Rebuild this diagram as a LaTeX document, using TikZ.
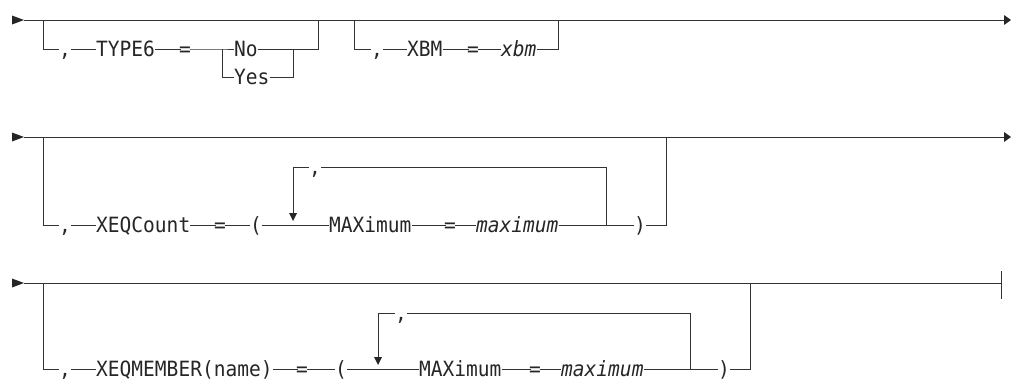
\documentclass[tikz,border=0pt]{standalone}
\usepackage{fontspec}
\newfontfamily\rrmono[FakeStretch=0.93]{DejaVu Sans Mono}
\begin{document}
\begin{tikzpicture}[x=1pt,y=-1pt,
  rr/.style={draw=black!80, line width=1pt},
  tipfill/.style={fill=black!85},
  kw/.style={inner sep=0pt, text height=15pt, text depth=0pt, anchor=west,
    font=\rrmono\fontsize{21}{22}\selectfont, text=black!85},
  eq/.style={kw, inner xsep=-1.5pt},
  var/.style={kw, font=\rrmono\itshape\fontsize{21}{22}\selectfont}]
\useasboundingbox (0,0) rectangle (1011,380);

% ---------------- Row 1 ----------------
\coordinate (s1) at (24,20);
\coordinate (e1end) at (1004,20);
\fill[tipfill] (12,15.5) -- (s1) -- (12,24.5) -- cycle;
\draw[rr] (s1) -- (e1end);
\fill[tipfill] (1004,15) -- (1011,20) -- (1004,25) -- cycle;

\node[kw] (c1) at (59,49) {,};
\node[kw] (t6) at (96,49) {TYPE6};
\node[eq] (q1) at (180.5,49) {=};
\node[kw] (no) at (234,49) {No};
\node[kw] (yes) at (234,77) {Yes};
\coordinate (b1l) at (43,20);
\coordinate (b1r) at (318,20);
\coordinate (j1l) at (222,49);
\coordinate (j1r) at (293,49);
\draw[rr] (b1l) |- (c1.west);
\draw[rr] (c1.east) -- (t6.west);
\draw[rr] (t6.east) -- (q1.west);
\draw[rr] (q1.east) -- (j1l) -- (no.west);
\draw[rr] (j1l) |- (yes.west);
\draw[rr] (no.east) -- (j1r);
\draw[rr] (yes.east) -| (j1r);
\draw[rr] (j1r) -| (b1r);

\node[kw] (c2) at (371,49) {,};
\node[kw] (xbm) at (407,49) {XBM};
\node[eq] (q2) at (468.5,49) {=};
\node[var] (vxbm) at (501,49) {xbm};
\coordinate (b2l) at (354,20);
\coordinate (b2r) at (558,20);
\draw[rr] (b2l) |- (c2.west);
\draw[rr] (c2.east) -- (xbm.west);
\draw[rr] (xbm.east) -- (q2.west);
\draw[rr] (q2.east) -- (vxbm.west);
\draw[rr] (vxbm.east) -| (b2r);

% ---------------- Row 2 ----------------
\coordinate (s2) at (24,137);
\coordinate (e2end) at (1004,137);
\fill[tipfill] (12,132.5) -- (s2) -- (12,141.5) -- cycle;
\draw[rr] (s2) -- (e2end);
\fill[tipfill] (1004,132) -- (1011,137) -- (1004,142) -- cycle;

\node[kw] (c3) at (59,225) {,};
\node[kw] (xc) at (96,225) {XEQCount};
\node[eq] (q3) at (215.5,225) {=};
\node[kw] (lp1) at (250,225) {(};
\node[kw] (mx1) at (329,225) {MAXimum};
\node[eq] (q4) at (445.5,225) {=};
\node[var] (vmx1) at (476,225) {maximum};
\node[kw] (rp1) at (634,225) {)};
\node[kw] (lc1) at (309,167) {,};
\coordinate (b3l) at (43,137);
\coordinate (b3r) at (666,137);
\coordinate (l1l) at (293,167);
\coordinate (l1a) at (293,213);
\coordinate (l1r) at (606,225);
\draw[rr] (b3l) |- (c3.west);
\draw[rr] (c3.east) -- (xc.west);
\draw[rr] (xc.east) -- (q3.west);
\draw[rr] (q3.east) -- (lp1.west);
\draw[rr] (lp1.east) -- (mx1.west);
\draw[rr] (mx1.east) -- (q4.west);
\draw[rr] (q4.east) -- (vmx1.west);
\draw[rr] (vmx1.east) -- (rp1.west);
\draw[rr] (rp1.east) -| (b3r);
\draw[rr] (l1r) |- (lc1.east);
\draw[rr] (lc1.west) -- (l1l) -- (l1a);
\fill[tipfill] (289,213) -- (297,213) -- (293,221) -- cycle;

% ---------------- Row 3 ----------------
\coordinate (s3) at (24,283);
\coordinate (e3end) at (1001,283);
\fill[tipfill] (12,278.5) -- (s3) -- (12,287.5) -- cycle;
\draw[rr] (s3) -- (e3end);
\draw[rr] (1001,271) -- (1001,299);

\node[kw] (c4) at (59,369) {,};
\node[kw] (xm) at (96,369) {XEQMEMBER(name)};
\node[eq] (q5) at (297.5,369) {=};
\node[kw] (lp2) at (335,369) {(};
\node[kw] (mx2) at (419,369) {MAXimum};
\node[eq] (q6) at (530.5,369) {=};
\node[var] (vmx2) at (561,369) {maximum};
\node[kw] (rp2) at (718,369) {)};
\node[kw] (lc2) at (395,313) {,};
\coordinate (b4l) at (43,283);
\coordinate (b4r) at (750,283);
\coordinate (l2l) at (378,313);
\coordinate (l2a) at (378,357);
\coordinate (l2r) at (690,369);
\draw[rr] (b4l) |- (c4.west);
\draw[rr] (c4.east) -- (xm.west);
\draw[rr] (xm.east) -- (q5.west);
\draw[rr] (q5.east) -- (lp2.west);
\draw[rr] (lp2.east) -- (mx2.west);
\draw[rr] (mx2.east) -- (q6.west);
\draw[rr] (q6.east) -- (vmx2.west);
\draw[rr] (vmx2.east) -- (rp2.west);
\draw[rr] (rp2.east) -| (b4r);
\draw[rr] (l2r) |- (lc2.east);
\draw[rr] (lc2.west) -- (l2l) -- (l2a);
\fill[tipfill] (374,357) -- (382,357) -- (378,365) -- cycle;
\end{tikzpicture}
\end{document}
